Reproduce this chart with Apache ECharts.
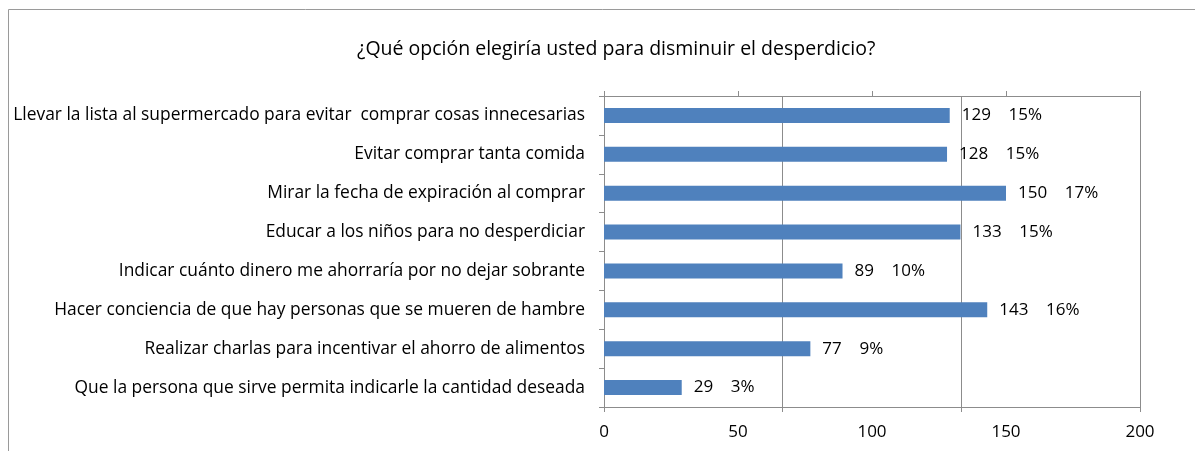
<!DOCTYPE html>
<html>
<head>
<meta charset="utf-8">
<script src="https://cdn.jsdelivr.net/npm/echarts@6/dist/echarts.min.js"></script>
<style>
  html, body { margin: 0; padding: 0; background: #fff; }
  #chart { width: 1195px; height: 451px; }
</style>
</head>
<body>
<div id="chart"></div>
<script>
const categories = [
  "Llevar la lista al supermercado para evitar  comprar cosas innecesarias",
  "Evitar comprar tanta comida",
  "Mirar la fecha de expiración al comprar",
  "Educar a los niños para no desperdiciar",
  "Indicar cuánto dinero me ahorraría por no dejar sobrante",
  "Hacer conciencia de que hay personas que se mueren de hambre",
  "Realizar charlas para incentivar el ahorro de alimentos",
  "Que la persona que sirve permita indicarle la cantidad deseada"
];
const counts = [129, 128, 150, 133, 89, 143, 77, 29];
const percents = ["15%", "15%", "17%", "15%", "10%", "16%", "9%", "3%"];
const xTicks = [0, 50, 100, 150, 200];

const font = "'Open Sans', 'Noto Sans', sans-serif";
const lineGrey = "#8c8c8c";

let myChart = echarts.init(document.getElementById("chart"));
myChart.setOption({
  animation: false,
  textStyle: { fontFamily: font },
  title: {
    text: "¿Qué opción elegiría usted para disminuir el desperdicio?",
    left: 352,
    top: 34,
    textStyle: { fontSize: 19.5, fontWeight: "normal", color: "#000", fontFamily: font }
  },
  // marco exterior
  graphic: [{
    type: "rect",
    silent: true,
    shape: { x: 8.5, y: 9.5, width: 1400, height: 600 },
    style: { fill: null, stroke: "#9a9a9a", lineWidth: 1 }
  }],
  grid: { left: 604, right: 55, top: 96, bottom: 44 },
  xAxis: [
    {
      type: "value",
      position: "bottom",
      min: xTicks[0],
      max: xTicks[xTicks.length - 1],
      interval: xTicks[1] - xTicks[0],
      axisLine: { show: true, lineStyle: { color: lineGrey } },
      axisTick: { show: false },
      splitLine: { show: false },
      axisLabel: { color: "#000", fontSize: 17, margin: 17 }
    },
    {
      type: "value",
      position: "top",
      min: xTicks[0],
      max: xTicks[xTicks.length - 1],
      interval: xTicks[1] - xTicks[0],
      axisLine: { show: true, lineStyle: { color: lineGrey } },
      axisTick: { show: true, length: 5, lineStyle: { color: lineGrey } },
      splitLine: { show: false },
      axisLabel: { show: false }
    },
    {
      // líneas de división
      type: "value",
      position: "bottom",
      min: 0,
      max: 200,
      interval: 200 / 3,
      axisLine: { show: false },
      axisTick: { show: true, length: 5, lineStyle: { color: lineGrey } },
      splitLine: { show: true, lineStyle: { color: lineGrey, width: 1 } },
      axisLabel: { show: false }
    }
  ],
  yAxis: {
    type: "category",
    inverse: true,
    data: categories,
    axisLine: { show: true, lineStyle: { color: lineGrey } },
    axisTick: { show: true, length: 5, lineStyle: { color: lineGrey } },
    axisLabel: { color: "#000", fontSize: 17.4, margin: 19 }
  },
  series: [{
    type: "bar",
    xAxisIndex: 0,
    data: counts,
    barWidth: 15,
    itemStyle: { color: "#4f81bd" },
    label: {
      show: true,
      position: "right",
      distance: 12,
      color: "#000",
      fontSize: 17,
      formatter: p => p.value + "    " + percents[p.dataIndex]
    }
  }]
});
window.onresize = myChart.resize;
</script>
</body>
</html>
